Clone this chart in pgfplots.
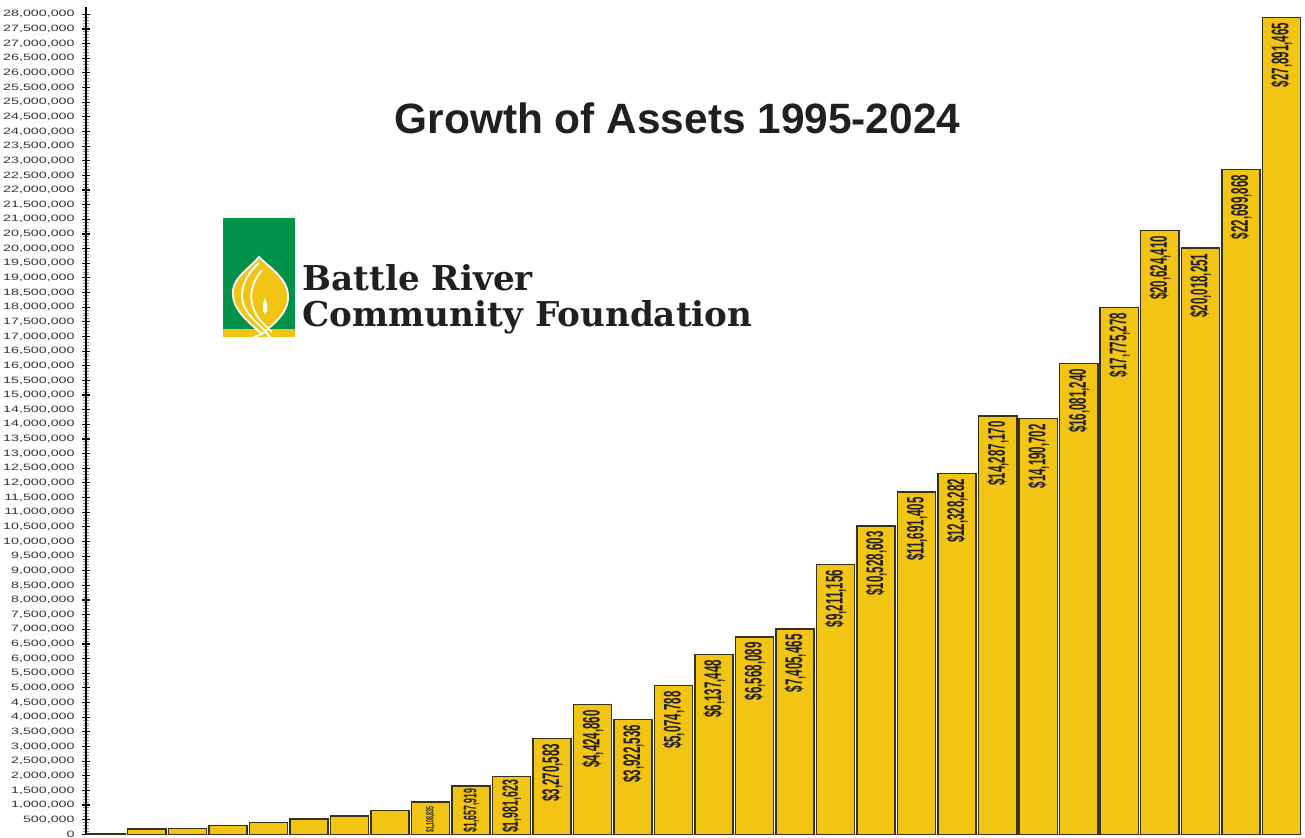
\documentclass[border=0pt]{standalone}
\usepackage{pgfplots}
\pgfplotsset{compat=1.18}
\usepackage{fontspec}
\setmainfont{Liberation Sans}
\newfontfamily\tickfont[FakeStretch=1.55]{Liberation Sans}
\newfontfamily\titlefont{Liberation Sans}
\newfontfamily\barfont[FakeStretch=0.48]{Liberation Sans}
\newfontfamily\logofont{DejaVu Serif}
\definecolor{barfill}{HTML}{F2C515}
\definecolor{baredge}{HTML}{3A3218}
\definecolor{txt}{HTML}{231F20}
\definecolor{logogreen}{HTML}{00924A}
\definecolor{logoyellow}{HTML}{F2C413}
\definecolor{tickgray}{HTML}{333333}
\begin{document}
\begin{tikzpicture}
\useasboundingbox (0,0) rectangle (652.5pt,418.5pt);
\begin{axis}[
  at={(43pt,1.35pt)}, anchor=south west,
  scale only axis, width=607.8pt, height=413.65pt,
  xmin=-0.5, xmax=29.5, ymin=0, ymax=28250000,
  enlargelimits=false, clip=false,
  ybar, bar width=0.94,
  axis line style={-},
  axis y line*=left, axis x line*=bottom,
  y axis line style={black, line width=0.6pt},
  x axis line style={gray!60, line width=0.4pt},
  xtick=\empty,
  ytick={0,500000,...,28000000},
  minor y tick num=4,
  tick align=center,
  major tick length=4pt, minor tick length=3.4pt,
  major tick style={black, line width=0.55pt},
  minor tick style={black!45, line width=0.5pt},
  scaled y ticks=false,
  yticklabel style={font=\tickfont\fontsize{4.6pt}{5pt}\selectfont, text=tickgray, inner xsep=0pt, xshift=-3.5pt},
  /pgf/number format/.cd, fixed, precision=0, 1000 sep={,}, assume math mode=true,
]
% bars without labels
\addplot[fill=barfill, draw=baredge, line width=0.75pt, bar shift=0pt] coordinates {
  (0,30000) (1,180000) (2,190000) (3,295000) (4,395000) (5,520000) (6,625000) (7,805000)
};
% small labelled bars
\addplot[fill=barfill, draw=baredge, line width=0.75pt, bar shift=0pt,
  nodes near coords, point meta=explicit symbolic,
  every node near coord/.append style={rotate=90, anchor=east, inner xsep=2pt, inner ysep=0pt, text=txt,
    font=\barfont\bfseries\fontsize{5.4pt}{6pt}\selectfont}] coordinates {
  (8,1108835) [\$1,108,835]
};
\addplot[fill=barfill, draw=baredge, line width=0.75pt, bar shift=0pt,
  nodes near coords, point meta=explicit symbolic,
  every node near coord/.append style={rotate=90, anchor=east, inner xsep=1.2pt, inner ysep=0pt, text=txt,
    font=\barfont\bfseries\fontsize{9.1pt}{10pt}\selectfont}] coordinates {
  (9,1657919) [\$1,657,919]
};
\addplot[fill=barfill, draw=baredge, line width=0.75pt, bar shift=0pt,
  nodes near coords, point meta=explicit symbolic,
  every node near coord/.append style={rotate=90, anchor=east, inner xsep=1.5pt, inner ysep=0pt, text=txt,
    font=\barfont\bfseries\fontsize{11pt}{12pt}\selectfont}] coordinates {
  (10,1981623) [\$1,981,623]
};
% standard labelled bars
\addplot[fill=barfill, draw=baredge, line width=0.75pt, bar shift=0pt,
  nodes near coords, point meta=explicit symbolic,
  every node near coord/.append style={rotate=90, anchor=east, inner xsep=2.4pt, inner ysep=0pt, text=txt,
    font=\barfont\bfseries\fontsize{12pt}{13pt}\selectfont}] coordinates {
  (11,3270583) [\$3,270,583]
  (12,4424860) [\$4,424,860]
  (13,3922536) [\$3,922,536]
  (14,5074788) [\$5,074,788]
  (15,6137448) [\$6,137,448]
  (16,6740000) [\$6,568,089]
  (17,7010000) [\$7,405,465]
  (18,9211156) [\$9,211,156]
  (19,10528603) [\$10,528,603]
  (20,11691405) [\$11,691,405]
  (21,12328282) [\$12,328,282]
  (22,14287170) [\$14,287,170]
  (23,14190702) [\$14,190,702]
  (24,16081240) [\$16,081,240]
  (25,17990000) [\$17,775,278]
  (26,20624410) [\$20,624,410]
  (27,20018251) [\$20,018,251]
  (28,22699868) [\$22,699,868]
  (29,27891465) [\$27,891,465]
};
\end{axis}
% title and logo (decoration), coordinates in reference pixels
\begin{scope}[shift={(0pt,418.5pt)}, x=0.5pt, y=-0.5pt]
  \node[anchor=base, text=txt, inner sep=0pt, font=\titlefont\bfseries\fontsize{21.2pt}{24pt}\selectfont]
    at (677.5,134) {Growth of Assets 1995-2024};
  % logo mark
  \fill[logogreen] (223,218) rectangle (295,329);
  \fill[logoyellow] (223,329) rectangle (295,337);
  \fill[logoyellow, draw=white, line width=0.9pt]
    (262,334) .. controls (246,320) and (231,308) .. (233,290)
    .. controls (235,276) and (250,268) .. (259,257)
    .. controls (270,268) and (287,278) .. (288,295)
    .. controls (289,312) and (276,322) .. (262,334) -- cycle;
  \draw[white, line width=0.9pt] (259,263) .. controls (246,275) and (238,290) .. (244,306) .. controls (249,318) and (262,326) .. (270,337);
  \draw[white, line width=0.9pt] (262,270) .. controls (252,282) and (248,296) .. (254,310) .. controls (258,320) and (266,326) .. (272,332);
  \draw[white, line width=0.9pt] (262,334) -- (254,337);
  \fill[white] (265,298) .. controls (268,304) and (268,312) .. (265,314) .. controls (262,312) and (262,304) .. (265,298) -- cycle;
  \node[anchor=base west, text=txt, inner sep=0pt, font=\logofont\bfseries\fontsize{17.1pt}{19pt}\selectfont]
    at (302,290) {Battle River};
  \node[anchor=base west, text=txt, inner sep=0pt, font=\logofont\bfseries\fontsize{17.1pt}{19pt}\selectfont]
    at (302,326) {Community Foundation};
\end{scope}
\end{tikzpicture}
\end{document}
